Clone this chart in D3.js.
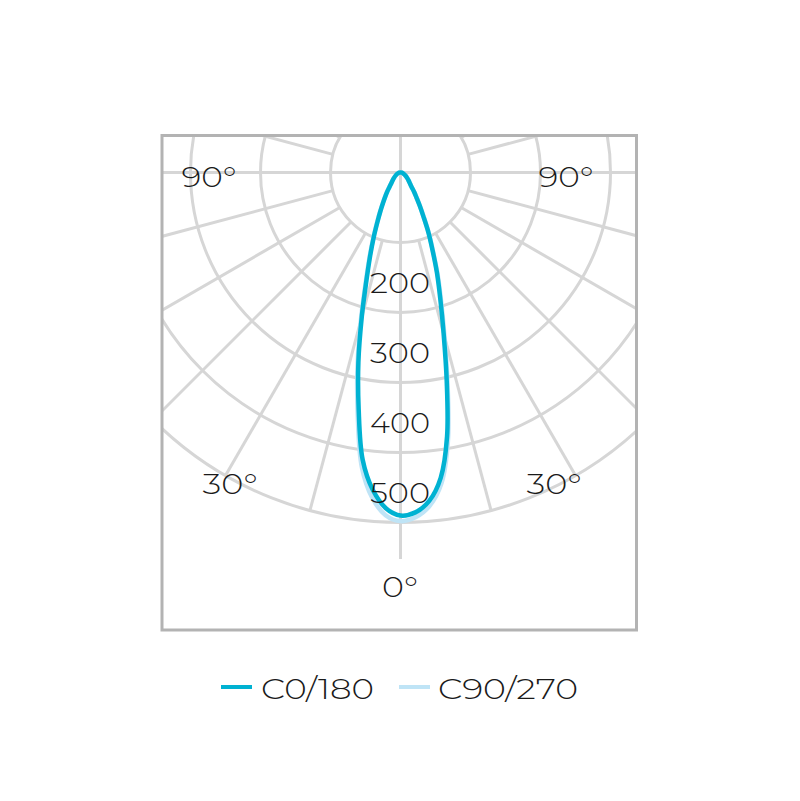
<!DOCTYPE html>
<html>
<head>
<meta charset="utf-8">
<script src="https://cdn.jsdelivr.net/npm/d3@7"></script>
<style>
  html, body { margin: 0; padding: 0; background: #fff; }
  svg { display: block; }
  text { font-family: "Montserrat", "Lato", "Noto Sans", sans-serif; font-weight: 300; fill: #1a1a1a; }
</style>
</head>
<body>
<svg id="chart" width="800" height="801"></svg>
<script>
// ---- data (cd, gamma angle from nadir) ----
const angles = [0, 2.5, 5, 7.5, 10, 12.5, 15, 17.5, 20, 22.5, 25, 27.5, 30, 32.5, 35, 37.5, 40, 45, 50, 60, 70, 80, 90];
// C0/180 plane: C0 drawn on the right half, C180 on the left half
const c0   = [491, 486, 471, 440, 383, 305, 238, 189, 152, 119, 94, 71, 55, 42.5, 34, 26, 21.5, 16.4, 12.6, 7.7, 4.4, 2.0, 0];
const c180 = [489, 480, 455, 414, 344, 278, 214, 162, 127, 100, 78, 62, 49.5, 40, 32.5, 25.5, 21, 16, 12.4, 7.5, 4.3, 2.0, 0];
// C90/270 plane: C90 on the right half, C270 on the left half
const c90  = [498, 493, 478, 448, 390, 311, 243, 193, 155, 121, 96, 72.5, 56, 43.5, 34.7, 26.5, 22, 16.7, 12.8, 7.8, 4.5, 2.0, 0];
const c270 = [498, 490, 466, 424, 352, 284, 219, 166, 130, 102, 80, 63.5, 50.5, 41, 33.2, 26, 21.4, 16.3, 12.6, 7.6, 4.4, 2.0, 0];
const ringValues = [100, 200, 300, 400, 500];
const ringLabels = ["200", "300", "400", "500"];
const spokeAngles = d3.range(-180, 181, 15);
const angleLabels = [
  { text: "90°", side: -1, deg: 90 },
  { text: "90°", side: 1, deg: 90 },
  { text: "30°", side: -1, deg: 30 },
  { text: "30°", side: 1, deg: 30 },
  { text: "0°", side: 0, deg: 0 }
];
const seriesNames = ["C0/180", "C90/270"];

// ---- layout ----
const cx = 400.5, cy = 172.5;
const box = { x0: 162, y0: 135.5, x1: 636.5, y1: 630 };
const colors = { c0: "#00b2d2", c90: "#bfe4f6", grid: "#d6d6d6", box: "#b3b3b3" };

const r = d3.scaleLinear().domain([0, 500]).range([0, 350]);

const svg = d3.select("#chart");
svg.append("defs").append("clipPath").attr("id", "boxclip")
  .append("rect").attr("x", box.x0).attr("y", box.y0)
  .attr("width", box.x1 - box.x0).attr("height", box.y1 - box.y0);

const grid = svg.append("g").attr("clip-path", "url(#boxclip)");
const gridStroke = 3;

function pt(deg, rad) {
  const t = deg * Math.PI / 180;
  return [cx + rad * Math.sin(t), cy + rad * Math.cos(t)];
}

// spokes (non-cardinal) from ring 100 to ring 500
spokeAngles.filter(a => a % 90 !== 0).forEach(a => {
  const p0 = pt(a, r(100)), p1 = pt(a, r(500));
  grid.append("line").attr("x1", p0[0]).attr("y1", p0[1]).attr("x2", p1[0]).attr("y2", p1[1])
    .attr("stroke", colors.grid).attr("stroke-width", gridStroke);
});
// rings
ringValues.forEach(v => {
  grid.append("circle").attr("cx", cx).attr("cy", cy).attr("r", r(v))
    .attr("fill", "none").attr("stroke", colors.grid).attr("stroke-width", gridStroke);
});
// cardinal axes
grid.append("line").attr("x1", box.x0).attr("x2", box.x1).attr("y1", cy).attr("y2", cy)
  .attr("stroke", colors.grid).attr("stroke-width", gridStroke);
grid.append("line").attr("x1", cx).attr("x2", cx).attr("y1", box.y0).attr("y2", pt(0, r(552))[1])
  .attr("stroke", colors.grid).attr("stroke-width", gridStroke);

// curves: closed loop through the origin (left half -80..0, right half 0..80, 90 == origin)
function loop(leftVals, rightVals) {
  const pts = [];
  for (let i = angles.length - 1; i >= 1; i--) pts.push([-angles[i], leftVals[i]]);
  pts.push([0, (leftVals[0] + rightVals[0]) / 2]);
  for (let i = 1; i < angles.length - 1; i++) pts.push([angles[i], rightVals[i]]);
  return pts;
}
const radial = d3.lineRadial()
  .angle(d => Math.PI - d[0] * Math.PI / 180)
  .radius(d => r(d[1]))
  .curve(d3.curveCatmullRomClosed.alpha(0.5));

const curves = svg.append("g").attr("transform", `translate(${cx},${cy})`);
curves.append("path").attr("d", radial(loop(c270, c90)))
  .attr("fill", "none").attr("stroke", colors.c90).attr("stroke-width", 4.5).attr("stroke-linejoin", "round");
curves.append("path").attr("d", radial(loop(c180, c0)))
  .attr("fill", "none").attr("stroke", colors.c0).attr("stroke-width", 4.5).attr("stroke-linejoin", "round");

// box
svg.append("rect").attr("x", box.x0).attr("y", box.y0)
  .attr("width", box.x1 - box.x0).attr("height", box.y1 - box.y0)
  .attr("fill", "none").attr("stroke", colors.box).attr("stroke-width", 3);

// ring labels
const fs = 28;
ringLabels.forEach(t => {
  svg.append("text").attr("x", 400).attr("y", 172 + r(+t) - 19)
    .attr("text-anchor", "middle").attr("font-size", fs)
    .attr("textLength", 60).attr("lengthAdjust", "spacingAndGlyphs").text(t);
});

// angle labels
const angPos = {
  "-1_90": [209, 187], "1_90": [566, 187],
  "-1_30": [230, 494], "1_30": [554, 494], "0_0": [400, 597]
};
angleLabels.forEach(l => {
  const p = angPos[l.side + "_" + l.deg];
  svg.append("text").attr("x", p[0]).attr("y", p[1]).attr("text-anchor", "middle")
    .attr("font-size", fs)
    .attr("textLength", l.text.length === 3 ? 55 : 36).attr("lengthAdjust", "spacingAndGlyphs")
    .text(l.text);
});

// legend
const legend = svg.append("g");
const legendItems = [
  { name: seriesNames[0], color: colors.c0, x: 221, tx: 261, tw: 113 },
  { name: seriesNames[1], color: colors.c90, x: 399, tx: 438, tw: 140 }
];
legendItems.forEach(it => {
  legend.append("line").attr("x1", it.x).attr("x2", it.x + 31).attr("y1", 687).attr("y2", 687)
    .attr("stroke", it.color).attr("stroke-width", 4);
  legend.append("text").attr("x", it.tx).attr("y", 699).attr("font-size", fs)
    .attr("textLength", it.tw).attr("lengthAdjust", "spacingAndGlyphs").text(it.name);
});
</script>
</body>
</html>
